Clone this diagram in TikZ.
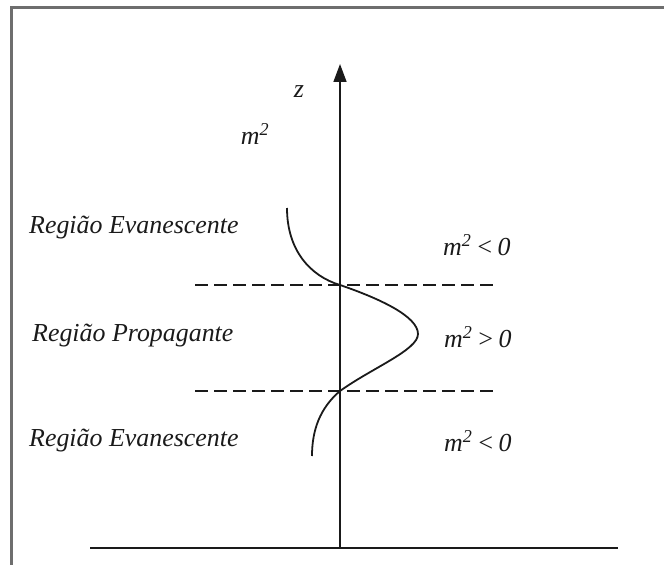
\documentclass[tikz,border=0pt]{standalone}
\usepackage{fontspec}
\setmainfont{Liberation Serif}
\usetikzlibrary{arrows.meta}
\definecolor{framegray}{HTML}{6E6E6E}
\definecolor{linedark}{HTML}{1A1A1A}
\tikzset{
	lbl/.style={font=\fontsize{26}{30}\selectfont\itshape, inner sep=0pt, text=linedark},
	axisline/.style={draw=linedark, line width=1.6bp},
	zarr/.style={axisline, -{Triangle[length=18bp, width=13bp]}},
	bound/.style={dashed, dash pattern=on 13bp off 6bp, draw=linedark, line width=2bp},
	wave/.style={draw=linedark, line width=1.8bp}
}

\begin{document}
\begin{tikzpicture}[x=1bp, y=-1bp]
	\useasboundingbox (0,0) rectangle (664,565);
	% frame (top and left only)
	\draw[framegray, line width=3bp] (11,565) -- (11,8) -- (664,8);
	% axes
	\coordinate (orig) at (340,548);
	\coordinate (ztop) at (340,64);
	\coordinate (bl) at (90,548);
	\coordinate (br) at (618,548);
	\draw[axisline] (bl) -- (br);
	\draw[zarr] (orig) -- (ztop);
	\node[lbl] (zlab) at (299,92) {z};
	\node[lbl] (mlab) at (255,134) {m\textsuperscript{2}};
	% region boundaries
	\coordinate (b1l) at (195,285);
	\coordinate (b1r) at (495,285);
	\coordinate (b2l) at (195,391);
	\coordinate (b2r) at (495,391);
	\draw[bound] (b1l) -- (b1r);
	\draw[bound] (b2l) -- (b2r);
	% profile
	\coordinate (w0) at (287,208);
	\coordinate (w1) at (340,285);
	\coordinate (w2) at (418,334);
	\coordinate (w3) at (340,391);
	\coordinate (w4) at (312,456);
	\draw[wave] (w0) .. controls (287,250) and (310,276) .. (w1)
		.. controls (378,298) and (418,316) .. (w2)
		.. controls (418,350) and (372,368) .. (w3)
		.. controls (320,408) and (312,430) .. (w4);
	% labels
	\node[lbl, anchor=west] (ev1) at (29,228) {Região Evanescente};
	\node[lbl, anchor=west] (prop) at (32,336) {Região Propagante};
	\node[lbl, anchor=west] (ev2) at (29,441) {Região Evanescente};
	\node[lbl, anchor=west] (m1) at (443,245) {m\textsuperscript{2}\,<\,0};
	\node[lbl, anchor=west] (m2) at (444,337) {m\textsuperscript{2}\,>\,0};
	\node[lbl, anchor=west] (m3) at (444,441) {m\textsuperscript{2}\,<\,0};
\end{tikzpicture}
\end{document}
